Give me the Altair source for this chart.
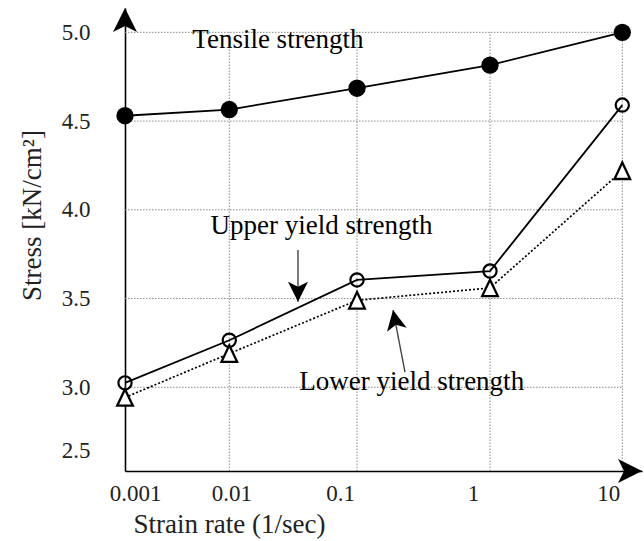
import altair as alt
import pandas as pd

# ---------------- data ----------------
strain = [0.001, 0.01, 0.1, 1, 10]
tensile = [4.53, 4.565, 4.685, 4.815, 5.0]
upper = [3.025, 3.265, 3.605, 3.655, 4.59]
lower = [2.92, 3.19, 3.49, 3.56, 4.22]

x_ticks = [0.001, 0.01, 0.1, 1, 10]
y_ticks = [2.5, 3.0, 3.5, 4.0, 4.5, 5.0]
h_grid = [3.0, 3.5, 4.0, 4.5, 5.0]
v_grid = [0.01, 0.1, 1, 10]

x_domain = [0.001, 0.01, 0.1, 1, 10, 14.06]
y_domain = [2.343, 3.0, 5.137]

ann_text = ["Tensile strength", "Upper yield strength", "Lower yield strength"]
ann_x = [0.02404, 0.0527, 0.2576]
ann_y = [4.954, 3.909, 3.03]

arrow_x1 = [0.0345, 0.2296]
arrow_y1 = [3.774, 3.086]
arrow_x2 = [0.0345, 0.1866]
arrow_y2 = [3.482, 3.435]
arrow_angle = [180, 349]

axis_end_x = [0.001, 14.06]
axis_end_y = [5.137, 2.343]
axis_end_angle = [0, 90]

# ---------------- layout ----------------
W, H = 517, 463
FONT = "Liberation Serif"
ARROW = "M0,0L0.5,1L0,0.75L-0.5,1Z"
TRI = "M0,-1L0.95,1L-0.95,1Z"

x_scale = alt.Scale(type="log", domain=x_domain, range=[0, 104.3, 232, 365, 497.3, W], nice=False)
y_scale = alt.Scale(type="linear", domain=y_domain, range=[H, 379.3, 0], nice=False, zero=False)

x_axis = alt.Axis(
    values=x_ticks, format="~g", title="Strain rate (1/sec)",
    labelPadding=11,
    labelOffset={"condition": [{"test": "datum.value < 0.005", "value": 10},
                               {"test": "datum.value < 0.05", "value": 2},
                               {"test": "datum.value > 5", "value": -14}],
                 "value": -17},
    titleX=104, titleY=61, titleBaseline="alphabetic", titleAlign="center",
)
y_axis = alt.Axis(
    values=y_ticks, format=".1f", title="Stress [kN/cm²]",
    labelPadding=35,
    titleX=-93, titleY=207, titleAngle=270, titleAlign="center", titleBaseline="middle",
)

df = pd.DataFrame({"strain": strain, "tensile": tensile, "upper": upper, "lower": lower})
hg = pd.DataFrame({"y": h_grid, "x1": [x_ticks[0]] * len(h_grid), "x2": [x_ticks[-1]] * len(h_grid)})
vg = pd.DataFrame({"x": v_grid, "y1": [y_domain[0]] * len(v_grid), "y2": [h_grid[-1]] * len(v_grid)})
ann = pd.DataFrame({"text": ann_text, "x": ann_x, "y": ann_y})
arr = pd.DataFrame({"x1": arrow_x1, "y1": arrow_y1, "x2": arrow_x2, "y2": arrow_y2, "angle": arrow_angle})
ends = pd.DataFrame({"x": axis_end_x, "y": axis_end_y, "angle": axis_end_angle})


def X(f, axis=alt.Undefined):
    return alt.X(f, type="quantitative", scale=x_scale, axis=axis)


def Y(f, axis=alt.Undefined):
    return alt.Y(f, type="quantitative", scale=y_scale, axis=axis)


grid_style = dict(color="#8a8a8a", strokeWidth=1, strokeDash=[1.5, 1.5])

hgrid = alt.Chart(hg).mark_rule(**grid_style).encode(x=X("x1"), x2="x2", y=Y("y"))
vgrid = alt.Chart(vg).mark_rule(**grid_style).encode(x=X("x"), y=Y("y1"), y2="y2")

base = alt.Chart(df)
t_line = base.mark_line(color="black", strokeWidth=1.8).encode(
    x=X("strain", x_axis), y=Y("tensile", y_axis))
u_line = base.mark_line(color="black", strokeWidth=1.8).encode(x=X("strain"), y=Y("upper"))
l_line = base.mark_line(color="black", strokeWidth=1.7, strokeDash=[2, 2]).encode(x=X("strain"), y=Y("lower"))

t_pts = base.mark_point(shape="circle", filled=True, color="black", size=300, opacity=1).encode(
    x=X("strain"), y=Y("tensile"))
u_pts = base.mark_point(shape="circle", filled=False, color="black", size=175, strokeWidth=2.2, opacity=1).encode(
    x=X("strain"), y=Y("upper"))
l_pts = base.mark_point(shape=TRI, filled=True, fill="white", stroke="black", strokeWidth=2.3,
                        size=270, opacity=1).encode(x=X("strain"), y=Y("lower"))

texts = alt.Chart(ann).mark_text(font=FONT, fontSize=27, color="black", align="center",
                                 baseline="middle").encode(x=X("x"), y=Y("y"), text="text:N")

shafts = alt.Chart(arr).mark_rule(color="#444444", strokeWidth=1.4).encode(
    x=X("x1"), y=Y("y1"), x2="x2", y2="y2")
heads = alt.Chart(arr).mark_point(shape=ARROW, filled=True, color="black", size=1600, opacity=1).encode(
    x=X("x2"), y=Y("y2"), angle=alt.Angle("angle:Q", scale=None))

axis_heads = alt.Chart(ends).mark_point(shape=ARROW, filled=True, color="black", size=2300, opacity=1).encode(
    x=X("x"), y=Y("y"), angle=alt.Angle("angle:Q", scale=None))

chart = alt.layer(
    hgrid, vgrid, t_line, u_line, l_line, t_pts, u_pts, l_pts, texts, shafts, heads, axis_heads
).properties(
    width=W, height=H,
    padding={"left": 125, "top": 8, "right": 2, "bottom": 70},
    autosize=alt.AutoSizeParams(type="none"),
    background="white",
).configure_view(
    stroke=None
).configure_axis(
    ticks=False, grid=False, domainColor="black", domainWidth=1.6,
    labelFont=FONT, labelFontSize=23, labelColor="#222222", labelFontWeight="normal",
    labelFlush=False, labelOverlap=False,
    titleFont=FONT, titleFontSize=27, titleFontWeight="normal", titleColor="#222222",
)

chart.save("out.html", embed_options={"renderer": "svg", "actions": False})
